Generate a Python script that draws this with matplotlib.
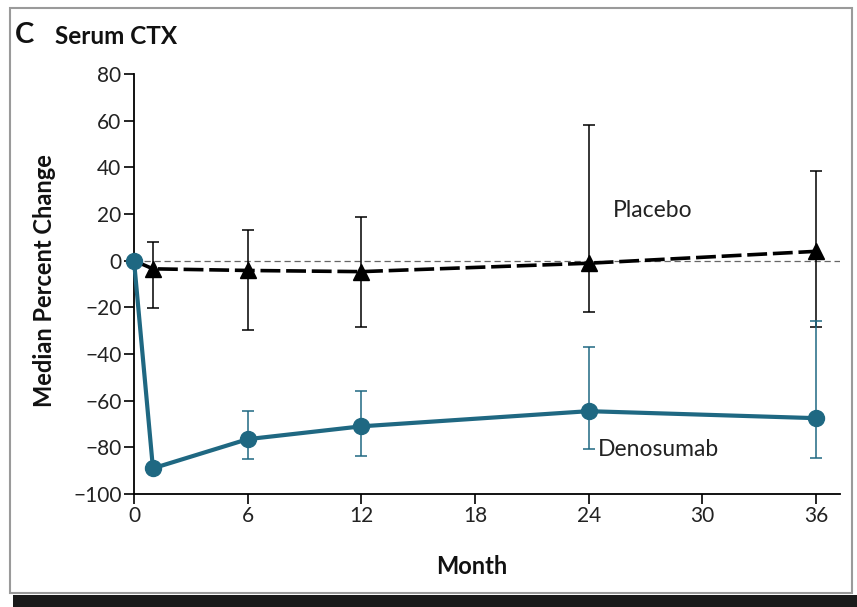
import matplotlib
matplotlib.use("Agg")
import matplotlib.pyplot as plt
from matplotlib.patches import Rectangle

# ---- data ----
months_den = [0, 1, 6, 12, 24, 36]
den_values = [0, -89, -76.5, -71, -64.5, -67.5]
den_err_low = [0, -89, -85, -83.7, -80.6, -84.7]
den_err_high = [0, -89, -64.5, -56, -37, -26]

months_pla = [0, 1, 6, 12, 24, 36]
pla_values = [0, -3.5, -4.2, -4.7, -1.1, 4.0]
pla_err_low = [0, -20.4, -29.7, -28.3, -21.9, -28.3]
pla_err_high = [0, 8.2, 13.2, 18.9, 58.2, 38.4]

x_ticks = [0, 6, 12, 18, 24, 30, 36]
y_ticks = [-100, -80, -60, -40, -20, 0, 20, 40, 60, 80]

TEAL = "#1f6882"
FONT = "Lato"

fig = plt.figure(figsize=(8.57, 6.07), dpi=100)
fig.patch.set_facecolor("white")

# frame and bottom bar
fig.patches.append(Rectangle((10/857, 1-593/607), 842/857, 585/607, transform=fig.transFigure,
                             fill=False, edgecolor="#9a9a9a", linewidth=1.5))
fig.patches.append(Rectangle((13/857, 0), 844/857, 12/607, transform=fig.transFigure,
                             facecolor="#1a1a1a", edgecolor="none"))

ax = fig.add_axes([134/857, 1-494/607, 706/857, 420/607])
ax.set_xlim(0, 706/682*36)
ax.set_ylim(-100, 80)
for s in ["top", "right"]:
    ax.spines[s].set_visible(False)
ax.spines["left"].set_linewidth(1.3)
ax.spines["bottom"].set_linewidth(1.3)
ax.set_xticks(x_ticks)
ax.set_yticks(y_ticks)
ax.set_yticklabels([str(v).replace("-", "\u2212") for v in y_ticks])
ax.tick_params(axis="both", direction="out", length=7, width=1.2, labelsize=15, pad=2)
for lab in ax.get_xticklabels() + ax.get_yticklabels():
    lab.set_fontfamily(FONT)
    lab.set_color("#222222")

# reference line at 0
ax.axhline(0, color="#666666", linestyle=(0, (5, 3)), linewidth=0.9, zorder=1)

# placebo
pla_lo = [v - l for v, l in zip(pla_values, pla_err_low)]
pla_hi = [h - v for v, h in zip(pla_values, pla_err_high)]
ax.errorbar(months_pla[1:], pla_values[1:], yerr=[pla_lo[1:], pla_hi[1:]], fmt="none",
            ecolor="black", elinewidth=1.1, capsize=4, capthick=1.1, zorder=2)
ax.plot(months_pla, pla_values, color="black", linestyle=(0, (5.5, 1.6)), linewidth=2.6, zorder=3,
        clip_on=False)
ax.plot(months_pla[1:], pla_values[1:], linestyle="none", marker="^", markersize=12,
        color="black", zorder=4, clip_on=False)

# denosumab
den_lo = [v - l for v, l in zip(den_values, den_err_low)]
den_hi = [h - v for v, h in zip(den_values, den_err_high)]
ax.errorbar(months_den[2:], den_values[2:], yerr=[den_lo[2:], den_hi[2:]], fmt="none",
            ecolor=TEAL, elinewidth=1.1, capsize=4, capthick=1.1, zorder=5)
ax.plot(months_den, den_values, color=TEAL, linewidth=3, marker="o", markersize=11.5,
        zorder=6, clip_on=False)

ax.text(25.3, 21.3, "Placebo", fontsize=16.5, family=FONT, color="#222222", va="center", ha="left")
ax.text(24.5, -81, "Denosumab", fontsize=16.5, family=FONT, color="#222222", va="center", ha="left")

fig.text(45/857, 1-281/607, "Median Percent Change", rotation=90, fontsize=17, fontweight="bold",
         family=FONT, ha="center", va="center", color="#111111")
fig.text(472/857, 1-567/607, "Month", fontsize=17, fontweight="bold", family=FONT,
         ha="center", va="center", color="#111111")
fig.text(15/857, 1-35/607, "C", fontsize=21, fontweight="bold", family=FONT,
         ha="left", va="center", color="#111111")
fig.text(55/857, 1-36/607, "Serum CTX", fontsize=17.5, fontweight="bold", family=FONT,
         ha="left", va="center", color="#111111")

fig.savefig("out.png", dpi=100)
